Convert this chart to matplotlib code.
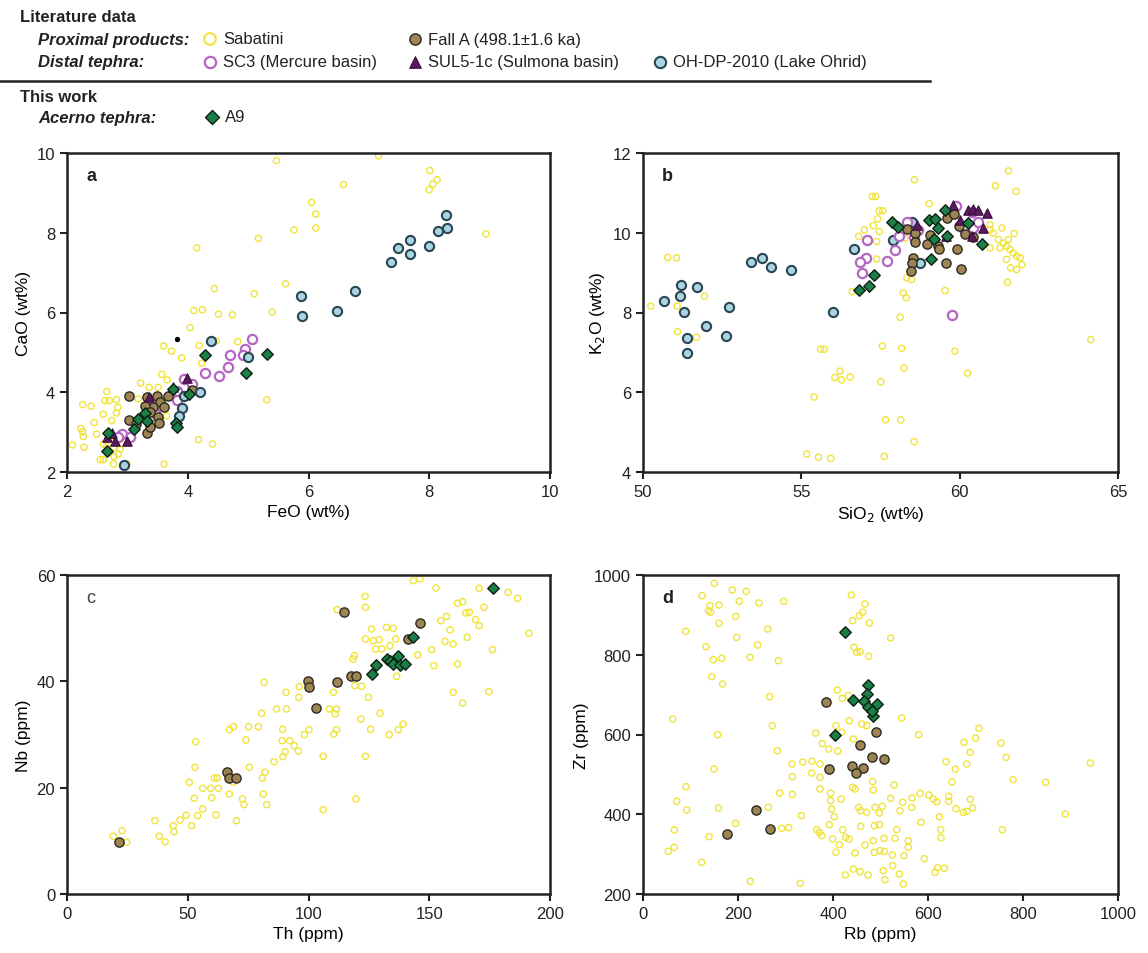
import matplotlib
matplotlib.use("Agg")
import matplotlib.pyplot as plt

plt.rcParams['font.family'] = ['Liberation Sans', 'DejaVu Sans']

# ---- panel a: FeO vs CaO ----
sab_feo = [5.47, 7.16, 8.01, 8.13, 8.06, 8.00, 6.58, 6.05, 6.12, 6.12, 5.76, 5.17, 8.94, 4.15,
           5.62, 4.44, 5.10, 4.10, 4.24, 4.51, 4.74, 5.40, 4.04, 3.60, 3.73, 4.19, 3.90, 4.47,
           4.83, 4.23, 3.57, 3.66, 3.22, 3.36, 3.51, 2.66, 2.63, 2.70, 2.26, 2.40, 2.82, 2.84,
           2.82, 2.60, 2.45, 2.74, 2.49, 2.26, 2.23, 2.27, 2.28, 2.09, 2.60, 2.77, 2.88, 2.85,
           2.78, 2.55, 2.60, 2.77, 2.99, 3.61, 4.18, 4.41, 5.31, 2.81, 2.91, 2.71, 2.66, 3.54,
           3.65, 3.18]
sab_cao = [9.81, 9.93, 9.56, 9.33, 9.22, 9.08, 9.21, 8.76, 8.47, 8.12, 8.07, 7.86, 7.97, 7.62,
           6.72, 6.60, 6.47, 6.05, 6.07, 5.96, 5.94, 6.01, 5.62, 5.16, 5.03, 5.17, 4.86, 5.29,
           5.27, 4.73, 4.45, 4.31, 4.23, 4.12, 4.12, 4.02, 3.79, 3.79, 3.69, 3.65, 3.81, 3.62,
           3.48, 3.45, 3.24, 3.29, 2.95, 3.01, 3.09, 2.89, 2.62, 2.68, 2.70, 2.62, 2.58, 2.45,
           2.39, 2.31, 2.31, 2.20, 2.20, 2.20, 2.81, 2.70, 3.81, 2.84, 2.70, 2.49, 2.66, 3.33,
           3.41, 3.83]
falla_feo = [3.03, 3.32, 3.49, 3.68, 3.54, 3.43, 3.30, 3.60, 3.37, 3.51, 3.02, 3.32, 3.37, 3.53,
             3.15, 4.07]
falla_cao = [3.90, 3.87, 3.90, 3.91, 3.75, 3.62, 3.66, 3.62, 3.50, 3.37, 3.31, 2.99, 3.12, 3.24,
             3.20, 4.06]
sc3_feo = [5.06, 4.94, 4.92, 4.70, 4.66, 4.51, 4.29, 3.93, 4.07, 3.83, 3.82, 3.46, 2.91, 3.04, 2.85]
sc3_cao = [5.33, 5.08, 4.93, 4.93, 4.64, 4.40, 4.48, 4.33, 4.21, 4.04, 3.80, 3.48, 2.95, 2.89, 2.87]
sul_feo = [2.66, 2.74, 3.35, 3.76, 3.98, 2.99, 2.80]
sul_cao = [2.87, 2.99, 3.87, 4.12, 4.35, 2.78, 2.78]
ohrid_feo = [8.27, 8.14, 8.29, 7.68, 7.48, 7.68, 7.99, 7.36, 6.77, 5.88, 5.89, 6.47, 4.39, 5.00,
             4.20, 3.90, 3.86, 3.93, 2.95]
ohrid_cao = [8.44, 8.04, 8.11, 7.82, 7.63, 7.46, 7.67, 7.26, 6.53, 6.42, 5.90, 6.05, 5.28, 4.88,
             4.01, 3.60, 3.40, 3.91, 2.17]
a9_feo = [4.29, 5.31, 4.97, 4.02, 3.80, 3.82, 2.68, 2.67, 3.29, 3.17, 3.11, 3.33, 3.76]
a9_cao = [4.94, 4.97, 4.48, 3.95, 3.23, 3.14, 2.99, 2.52, 3.48, 3.33, 3.08, 3.27, 4.08]
other_feo = [3.83]
other_cao = [5.33]

# ---- panel b: SiO2 vs K2O ----
sab_sio2 = [61.54, 58.57, 61.13, 61.78, 57.24, 57.35, 59.04, 57.46, 57.57, 57.41, 57.27, 56.99,
            56.81, 57.46, 57.38, 58.27, 57.38, 60.96, 61.06, 61.22, 61.38, 61.48, 61.59, 61.69,
            61.80, 61.91, 61.96, 61.80, 61.61, 61.48, 60.96, 61.27, 61.54, 61.72, 61.33, 60.96,
            61.51, 50.78, 51.06, 50.25, 51.08, 51.94, 51.09, 51.69, 58.33, 58.48, 58.22, 58.31,
            59.54, 58.12, 56.61, 55.61, 55.72, 57.56, 58.17, 58.24, 59.85, 60.25, 56.22, 56.06,
            56.27, 56.54, 57.51, 55.40, 57.66, 58.14, 58.56, 55.17, 55.54, 55.93, 57.62, 64.14]
sab_k2o = [11.55, 11.33, 11.18, 11.04, 10.91, 10.91, 10.73, 10.55, 10.55, 10.35, 10.18, 10.07,
           9.91, 10.03, 9.78, 9.87, 9.34, 10.08, 9.99, 9.83, 9.74, 9.66, 9.58, 9.49,
           9.41, 9.37, 9.20, 9.08, 9.12, 9.33, 9.62, 9.62, 9.83, 9.98, 10.12, 10.20,
           8.76, 9.38, 9.37, 8.16, 8.16, 8.41, 7.52, 7.38, 8.87, 8.83, 8.49, 8.37,
           8.55, 7.88, 8.52, 7.08, 7.08, 7.16, 7.10, 6.61, 7.03, 6.48, 6.53, 6.37,
           6.31, 6.38, 6.26, 5.88, 5.31, 5.31, 4.76, 4.45, 4.37, 4.34, 4.39, 7.32]
falla_sio2 = [58.33, 58.60, 58.59, 58.96, 59.06, 59.33, 59.36, 59.57, 60.03, 59.91, 59.59, 59.83,
              59.99, 60.17, 60.43, 58.54, 58.48, 58.45]
falla_k2o = [10.09, 9.99, 9.78, 9.73, 9.95, 9.66, 9.58, 9.24, 9.09, 9.58, 10.37, 10.48,
             10.18, 9.98, 9.89, 9.37, 9.24, 9.05]
sc3_sio2 = [57.06, 57.03, 56.85, 56.91, 57.69, 57.96, 58.09, 58.33, 58.56, 58.69, 59.88, 59.77,
            60.15, 60.43, 60.59, 60.38]
sc3_k2o = [9.81, 9.36, 9.27, 8.98, 9.28, 9.56, 9.91, 10.28, 9.89, 10.06, 10.68, 7.93,
           10.09, 10.12, 10.26, 10.51]
sul_sio2 = [59.80, 60.27, 60.43, 60.59, 60.85, 60.75, 59.57, 58.64, 60.01, 60.38]
sul_k2o = [10.70, 10.56, 10.59, 10.58, 10.49, 10.12, 9.91, 10.20, 10.33, 9.91]
ohrid_sio2 = [50.67, 51.20, 51.17, 51.28, 51.72, 51.40, 51.38, 51.99, 52.62, 52.73, 53.42, 53.76,
              54.03, 54.66, 56.01, 56.66, 57.88, 58.51, 58.75]
ohrid_k2o = [8.28, 8.70, 8.41, 8.02, 8.63, 7.36, 6.99, 7.66, 7.42, 8.14, 9.26, 9.37,
             9.15, 9.06, 8.01, 9.60, 9.81, 10.28, 9.24]
a9_sio2 = [57.87, 58.06, 59.03, 59.22, 59.54, 59.31, 59.19, 59.09, 57.31, 57.13, 56.83, 60.72,
           59.59, 60.27]
a9_k2o = [10.28, 10.14, 10.31, 10.34, 10.58, 10.12, 9.84, 9.34, 8.93, 8.66, 8.56, 9.72,
          9.91, 10.24]

# ---- panel c: Th vs Nb ----
sab_th = [143.4, 146.1, 152.8, 170.7, 182.7, 186.6, 123.4, 123.6, 111.9, 172.6, 161.7, 163.8,
          165.2, 166.6, 154.8, 157.2, 169.2, 170.7, 191.3, 158.6, 126.1, 132.3, 135.1, 123.6,
          126.8, 129.3, 136.1, 156.5, 159.9, 165.7, 133.7, 127.8, 130.3, 151.0, 176.2, 145.2,
          151.9, 161.7, 136.5, 119.0, 118.5, 119.2, 122.0, 81.6, 90.7, 96.2, 96.0, 110.3,
          124.8, 159.9, 174.7, 163.8, 86.8, 90.9, 108.6, 111.6, 80.6, 111.0, 129.6, 121.7,
          67.2, 68.9, 75.2, 79.2, 89.3, 100.2, 98.3, 111.6, 110.5, 133.4, 137.2, 139.2,
          125.7, 53.3, 74.1, 89.1, 92.2, 94.1, 95.8, 90.3, 89.4, 106.1, 123.6, 85.7,
          75.5, 82.0, 53.0, 61.0, 62.2, 80.9, 50.6, 56.2, 59.5, 62.7, 68.9, 52.7,
          59.9, 67.2, 72.7, 73.3, 81.3, 82.7, 119.6, 56.2, 49.3, 54.1, 61.7, 106.1,
          36.4, 46.8, 44.0, 51.6, 70.2, 44.3, 19.2, 22.8, 38.2, 40.6, 24.7]
sab_nb = [58.93, 59.25, 57.55, 57.49, 56.74, 55.61, 55.99, 53.92, 53.48, 53.92, 54.67, 54.98,
          52.85, 52.98, 51.41, 52.23, 51.60, 50.47, 49.03, 49.66, 49.84, 50.16, 49.97, 47.96,
          47.65, 47.84, 47.96, 47.52, 47.02, 48.28, 46.71, 46.08, 46.08, 45.96, 45.96, 44.95,
          42.95, 43.26, 40.94, 44.83, 44.20, 39.18, 39.06, 39.81, 37.93, 39.00, 36.99, 37.93,
          36.99, 37.93, 38.06, 35.92, 34.80, 34.80, 34.80, 34.80, 33.98, 33.86, 33.98, 32.92,
          30.91, 31.47, 31.47, 31.47, 30.97, 30.91, 29.97, 30.91, 30.09, 29.97, 30.91, 31.97,
          30.97, 28.65, 28.97, 28.84, 28.84, 27.90, 26.90, 26.77, 25.83, 25.89, 25.89, 24.89,
          23.82, 22.88, 23.82, 21.82, 21.82, 21.82, 21.00, 19.87, 19.87, 19.87, 21.00, 18.00,
          18.12, 18.81, 17.87, 16.80, 18.81, 16.80, 17.87, 15.99, 14.80, 14.73, 14.86, 15.86,
          13.79, 13.92, 12.85, 12.85, 13.79, 11.72, 10.85, 11.91, 10.85, 9.84, 9.72]
falla_th = [114.7, 146.1, 141.3, 99.9, 100.2, 111.6, 117.4, 119.6, 102.9, 66.1, 67.2, 69.8, 21.7]
falla_nb = [52.98, 50.91, 47.96, 40.0, 38.87, 39.94, 40.94, 40.94, 34.92, 23.01, 21.82, 21.82, 9.84]
a9_th = [176.5, 143.4, 126.1, 127.9, 132.3, 137.2, 133.7, 135.1, 137.9, 139.9]
a9_nb = [57.49, 48.28, 41.38, 43.07, 44.20, 44.70, 43.89, 43.26, 43.07, 43.26]

# ---- panel d: Rb vs Zr ----
sab_rb = [150.2, 124.2, 188.1, 216.9, 202.8, 244.2, 296.2, 141.1, 160.0, 137.6, 142.5, 195.1,
          160.0, 89.8, 262.5, 197.2, 241.4, 132.6, 148.1, 165.6, 225.3, 284.9, 144.6, 167.7,
          266.7, 62.5, 157.2, 272.3, 282.8, 149.5, 90.5, 70.9, 91.9, 159.3, 66.0, 53.3,
          65.3, 123.5, 139.0, 195.1, 226.0, 263.9, 291.9, 306.7, 333.4, 331.2, 313.7, 336.2,
          355.8, 314.4, 314.4, 287.7, 363.5, 372.7, 355.1, 372.7, 377.6, 390.9, 409.9, 406.3,
          418.3, 434.4, 442.8, 409.1, 419.7, 432.3, 438.6, 441.4, 467.4, 455.5, 462.5, 476.5,
          521.4, 444.2, 449.9, 456.9, 475.1, 460.4, 470.9, 544.6, 580.4, 675.8, 700.4, 707.4,
          688.5, 753.7, 764.3, 681.4, 637.9, 657.6, 650.6, 779.0, 847.8, 941.8, 889.2, 756.5,
          583.2, 601.4, 611.3, 618.3, 643.6, 643.6, 689.2, 694.1, 674.4, 681.4, 659.0, 623.9,
          626.7, 627.4, 592.3, 614.8, 620.4, 634.4, 585.3, 565.6, 566.4, 546.7, 541.1, 528.5,
          521.4, 503.9, 497.6, 488.5, 470.9, 454.1, 458.3, 483.5, 484.9, 441.4, 446.4, 372.7,
          392.3, 397.2, 395.1, 395.1, 402.8, 416.9, 406.3, 420.4, 426.7, 413.4, 433.7, 446.4,
          458.3, 467.4, 484.9, 487.1, 497.6, 487.1, 499.0, 508.1, 507.4, 524.9, 534.1, 530.6,
          549.5, 558.6, 558.6, 506.0, 525.6, 539.7, 548.1, 509.5, 442.8, 456.9, 473.7, 426.0,
          399.3, 371.2, 365.6, 376.2]
sab_zr = [979.1, 948.2, 962.4, 959.0, 934.0, 929.8, 934.0, 923.1, 924.8, 910.5, 906.4, 896.3,
          878.8, 858.7, 864.6, 843.7, 824.4, 820.3, 787.7, 791.0, 793.5, 785.1, 745.0, 726.6,
          694.9, 638.8, 599.6, 622.1, 559.4, 513.4, 469.1, 432.4, 410.6, 415.6, 360.5, 306.9,
          317.0, 279.4, 343.7, 377.2, 231.7, 417.3, 364.6, 366.3, 396.4, 226.7, 526.0, 531.0,
          532.7, 494.2, 449.9, 453.3, 603.7, 526.0, 503.4, 492.5, 577.0, 563.6, 558.6, 622.1,
          605.4, 634.7, 588.7, 711.6, 690.7, 697.4, 949.8, 885.5, 927.3, 898.0, 906.4, 879.6,
          842.0, 818.6, 806.0, 807.7, 796.0, 626.3, 622.1, 641.4, 599.6, 580.3, 591.2, 615.4,
          555.2, 578.7, 542.7, 526.0, 531.8, 513.4, 480.8, 486.7, 480.0, 528.5, 400.6, 361.3,
          452.4, 448.2, 438.2, 431.5, 444.9, 432.4, 437.4, 415.6, 404.8, 407.3, 413.9, 393.9,
          361.3, 341.2, 288.6, 254.3, 266.0, 264.3, 379.7, 417.3, 440.7, 429.8, 408.9, 473.3,
          439.9, 419.8, 403.1, 417.3, 404.8, 417.3, 408.9, 481.7, 460.8, 467.5, 463.3, 463.3,
          373.8, 413.1, 452.4, 434.0, 393.9, 438.2, 304.4, 361.3, 342.1, 323.7, 337.9, 302.8,
          369.7, 322.8, 333.7, 371.3, 373.8, 304.4, 308.6, 306.9, 339.6, 297.8, 361.3, 339.6,
          296.1, 333.7, 317.0, 258.5, 271.0, 250.1, 225.0, 235.9, 262.6, 255.9, 247.6, 247.6,
          337.9, 354.6, 361.3, 346.3]
falla_rb = [384.6, 490.6, 456.9, 482.8, 506.7, 439.3, 462.5, 391.6, 447.7, 238.6, 176.9, 267.4]
falla_zr = [680.6, 605.4, 573.6, 542.7, 538.5, 520.1, 515.6, 512.6, 502.6, 410.6, 350.4, 363.0]
a9_rb = [424.6, 473.0, 470.9, 442.8, 466.0, 492.0, 474.4, 484.9, 404.9, 481.4]
a9_zr = [857.9, 724.1, 701.6, 687.3, 684.8, 676.5, 668.1, 647.2, 599.6, 659.7]

# ---- marker styles ----
SAB = dict(marker='o', s=20, facecolors='none', edgecolors='#f0e43a', linewidths=1.0)
FALLA = dict(marker='o', s=44, facecolors='#9c8552', edgecolors='#2e2a20', linewidths=1.0)
SC3 = dict(marker='o', s=44, facecolors='white', edgecolors='#b565c4', linewidths=1.6)
SUL = dict(marker='^', s=46, facecolors='#5c1a5e', edgecolors='#3a0c3c', linewidths=0.8)
OHRID = dict(marker='o', s=44, facecolors='#a9d4e0', edgecolors='#2a4655', linewidths=1.5)
A9 = dict(marker='D', s=34, facecolors='#1c7f47', edgecolors='#0b1f12', linewidths=1.0)

fig = plt.figure(figsize=(11.48, 9.54), dpi=100)

W = 483 / 1148
H = 319 / 954
ax_a = fig.add_axes([67 / 1148, 1 - 473 / 954, W, H])
ax_b = fig.add_axes([643 / 1148, 1 - 473 / 954, 475 / 1148, H])
ax_c = fig.add_axes([67 / 1148, 1 - 895 / 954, W, H])
ax_d = fig.add_axes([643 / 1148, 1 - 895 / 954, 475 / 1148, H])


def style_axes(ax, letter, bold=True):
    for sp in ax.spines.values():
        sp.set_linewidth(1.8)
        sp.set_color('#222222')
    ax.tick_params(direction='out', length=5, width=1.5, labelsize=12, colors='#222222')
    ax.text(0.04, 0.915, letter, transform=ax.transAxes, fontsize=13,
            fontweight='bold' if bold else 'normal',
            color='#222222' if bold else '#444444')


# panel a
ax_a.scatter(sab_feo, sab_cao, **SAB)
ax_a.scatter(sc3_feo, sc3_cao, **SC3)
ax_a.scatter(falla_feo, falla_cao, **FALLA)
ax_a.scatter(sul_feo, sul_cao, **SUL)
ax_a.scatter(ohrid_feo, ohrid_cao, **OHRID)
ax_a.scatter(a9_feo, a9_cao, **A9)
ax_a.scatter(other_feo, other_cao, marker='o', s=8, color='black')
ax_a.set_xlim(2, 10)
ax_a.set_ylim(2, 10)
ax_a.set_xticks([2, 4, 6, 8, 10])
ax_a.set_yticks([2, 4, 6, 8, 10])
ax_a.set_xlabel('FeO (wt%)', fontsize=12.5)
ax_a.set_ylabel('CaO (wt%)', fontsize=12.5)
style_axes(ax_a, 'a')

# panel b
ax_b.scatter(sab_sio2, sab_k2o, **SAB)
ax_b.scatter(ohrid_sio2, ohrid_k2o, **OHRID)
ax_b.scatter(sc3_sio2, sc3_k2o, **SC3)
ax_b.scatter(falla_sio2, falla_k2o, **FALLA)
ax_b.scatter(sul_sio2, sul_k2o, **SUL)
ax_b.scatter(a9_sio2, a9_k2o, **A9)
ax_b.set_xlim(50, 65)
ax_b.set_ylim(4, 12)
ax_b.set_xticks([50, 55, 60, 65])
ax_b.set_yticks([4, 6, 8, 10, 12])
ax_b.set_xlabel('SiO$_2$ (wt%)', fontsize=12.5)
ax_b.set_ylabel('K$_2$O (wt%)', fontsize=12.5)
style_axes(ax_b, 'b')

# panel c
ax_c.scatter(sab_th, sab_nb, **SAB)
ax_c.scatter(falla_th, falla_nb, **FALLA)
ax_c.scatter(a9_th, a9_nb, **A9)
ax_c.set_xlim(0, 200)
ax_c.set_ylim(0, 60)
ax_c.set_xticks([0, 50, 100, 150, 200])
ax_c.set_yticks([0, 20, 40, 60])
ax_c.set_xlabel('Th (ppm)', fontsize=12.5)
ax_c.set_ylabel('Nb (ppm)', fontsize=12.5)
style_axes(ax_c, 'c', bold=False)

# panel d
ax_d.scatter(sab_rb, sab_zr, **SAB)
ax_d.scatter(falla_rb, falla_zr, **FALLA)
ax_d.scatter(a9_rb, a9_zr, **A9)
ax_d.set_xlim(0, 1000)
ax_d.set_ylim(200, 1000)
ax_d.set_xticks([0, 200, 400, 600, 800, 1000])
ax_d.set_yticks([200, 400, 600, 800, 1000])
ax_d.set_xlabel('Rb (ppm)', fontsize=12.5)
ax_d.set_ylabel('Zr (ppm)', fontsize=12.5)
style_axes(ax_d, 'd')

# ---- legend block at the top (pixel coordinates) ----
leg = fig.add_axes([0, 0, 1, 1], zorder=-1)
leg.set_xlim(0, 1148)
leg.set_ylim(954, 0)
leg.axis('off')

txt = dict(fontsize=12, color='#222222', va='center')
leg.text(20, 17, 'Literature data', fontweight='bold', **txt)
leg.text(38, 40, 'Proximal products:', fontweight='bold', style='italic', **txt)
leg.text(38, 63, 'Distal tephra:', fontweight='bold', style='italic', **txt)
leg.plot([0, 930], [82, 82], color='#222222', lw=1.8)
leg.text(20, 97, 'This work', fontweight='bold', **txt)
leg.text(38, 118, 'Acerno tephra:', fontweight='bold', style='italic', **txt)

entries = [
    (210, 40, SAB, 'Sabatini'),
    (415, 40, FALLA, 'Fall A (498.1±1.6 ka)'),
    (210, 63, SC3, 'SC3 (Mercure basin)'),
    (415, 63, SUL, 'SUL5-1c (Sulmona basin)'),
    (660, 63, OHRID, 'OH-DP-2010 (Lake Ohrid)'),
    (212, 118, A9, 'A9'),
]
for x, y, st, label in entries:
    kw = dict(st)
    if st is SAB:
        kw.update(s=70, linewidths=1.5)
    else:
        kw.update(s=kw['s'] * 1.5)
    leg.scatter([x], [y], **kw)
    leg.text(x + 13, y, label, fontsize=12, color='#222222', va='center')

fig.savefig('out.png', dpi=100)
